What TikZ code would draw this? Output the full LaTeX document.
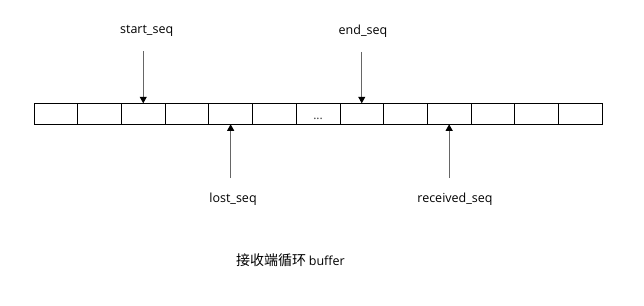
\documentclass[tikz,border=0pt]{standalone}
\usepackage{fontspec}
\setmainfont{Open Sans}
\newfontfamily\cjk{Noto Sans CJK SC}
\usetikzlibrary{positioning,arrows.meta}
\tikzset{
  cellbox/.style={draw=black, line width=0.8pt, minimum width=43.7pt, minimum height=21pt, inner sep=0pt, outer sep=0pt},
  seqlabel/.style={font=\fontsize{12.5}{15}\selectfont},
  ptr/.style={draw=black!60, line width=0.9pt, -{Triangle[width=7pt,length=6.5pt,color=black]}}
}
\begin{document}
\begin{tikzpicture}[x=1pt,y=1pt]
\useasboundingbox (0,0) rectangle (644,305);
% ring buffer cells
\node[cellbox] (cell1) at (55.85,191.2) {};
\foreach \i [remember=\i as \prev (initially 1)] in {2,...,13}
  \node[cellbox, right=0pt of cell\prev] (cell\i) {};
\node[font=\fontsize{12}{14}\selectfont, anchor=base, inner sep=0pt, yshift=-5.5pt, text=black!80] (gap) at (cell7) {...};

% sequence labels
\node[seqlabel] (startlbl) at (146.7,274) {start\_seq};
\node[seqlabel] (endlbl) at (363,274) {end\_seq};
\node[seqlabel] (lostlbl) at (233,106) {lost\_seq};
\node[seqlabel] (recvlbl) at (455,106) {received\_seq};

% pointers
\draw[ptr, shorten <=11pt] (startlbl.south -| cell3.north) -- (cell3.north);
\draw[ptr, shorten <=11pt] (endlbl.south -| cell8.north) -- (cell8.north);
\draw[ptr, shorten <=11pt] (lostlbl.north -| cell5.south) -- (cell5.south);
\draw[ptr, shorten <=11pt] (recvlbl.north -| cell10.south) -- (cell10.south);

\node (caption) at (290.5,45) {{\cjk\fontsize{14}{16}\selectfont 接收端循环} \fontsize{12.5}{15}\selectfont buffer};
\end{tikzpicture}
\end{document}
